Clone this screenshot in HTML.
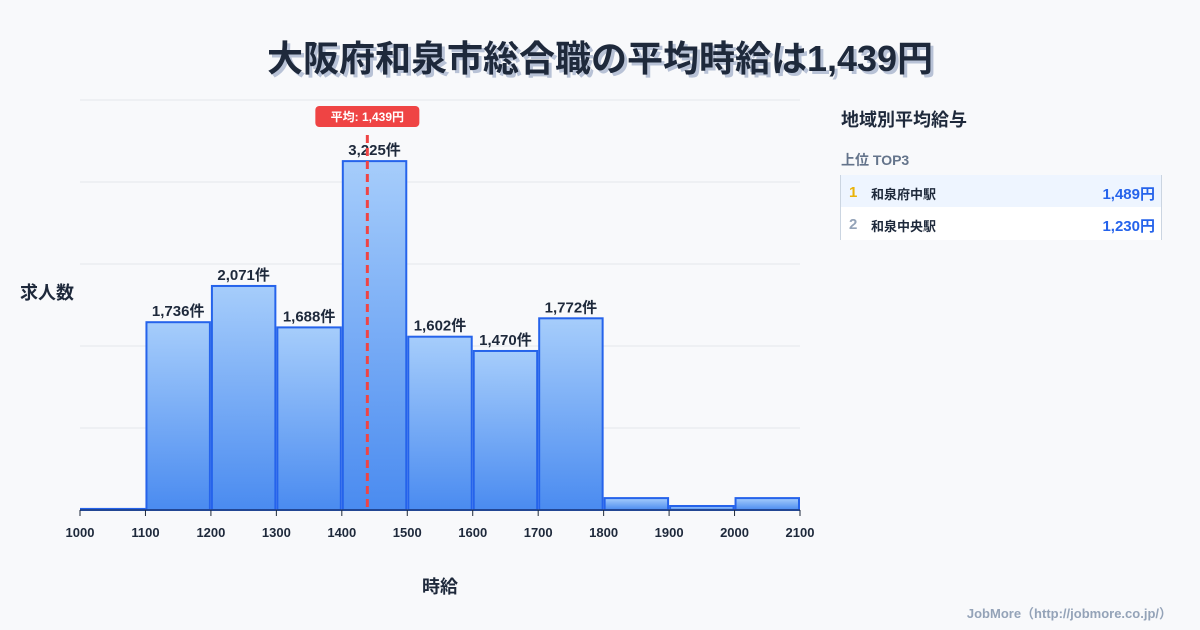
<!DOCTYPE html>
<html><head><meta charset="utf-8">
<style>
body{margin:0;width:1200px;height:630px;background:#f8f9fb;font-family:"Liberation Sans","Noto Sans CJK JP",sans-serif;overflow:hidden;position:relative}
.t{position:absolute;left:0;width:1200px;top:30px;text-align:center;font-size:36px;font-weight:bold;color:#1e293b;text-shadow:3px 3px 0 #b8c2d6}
</style></head><body>
<div class="t">大阪府和泉市総合職の平均時給は1,439円</div>
<svg id="c" width="1200" height="630" style="position:absolute;left:0;top:0">
<defs><linearGradient id="g" x1="0" y1="0" x2="0" y2="1"><stop offset="0" stop-color="#a6cdfb"/><stop offset="1" stop-color="#4a8bf0"/></linearGradient></defs>
</svg>
<div style="position:absolute;left:841px;top:106px;font-size:18px;font-weight:bold;color:#1e293b">地域別平均給与</div>
<div style="position:absolute;left:841px;top:150px;font-size:14px;font-weight:bold;color:#64748b">上位 TOP3</div>
<div style="position:absolute;left:840px;top:175px;width:320px;height:65px;border-left:1px solid #cbd5e1;border-right:1px solid #cbd5e1">
<div style="height:32px;background:#eef5ff;position:relative;font-size:13px;font-weight:bold"><span style="position:absolute;left:8px;top:9px;color:#eab308;font-size:15px">1</span><span style="position:absolute;left:30px;top:9px;color:#1e293b">和泉府中駅</span><span style="position:absolute;right:6px;top:8px;color:#2563eb;font-size:15px">1,489円</span></div>
<div style="height:33px;background:#fff;position:relative;font-size:13px;font-weight:bold"><span style="position:absolute;left:8px;top:9px;color:#94a3b8;font-size:15px">2</span><span style="position:absolute;left:30px;top:9px;color:#1e293b">和泉中央駅</span><span style="position:absolute;right:6px;top:8px;color:#2563eb;font-size:15px">1,230円</span></div>
</div>
<div style="position:absolute;right:28px;top:603px;font-size:13px;font-weight:bold;color:#94a3b8">JobMore（http://jobmore.co.jp/）</div>
<script>
const binStarts=[1000,1100,1200,1300,1400,1500,1600,1700,1800,1900,2000];
const counts=[10,1736,2071,1688,3225,1602,1470,1772,110,37,110];
const xTicks=[1000,1100,1200,1300,1400,1500,1600,1700,1800,1900,2000,2100];
const meanValue=1439;
const svg=document.getElementById('c');const NS='http://www.w3.org/2000/svg';
const X0=80,X1=800,Y0=510,YT=100,xmin=1000,xmax=2100,ymax=3790;
const xs=v=>X0+(v-xmin)/(xmax-xmin)*(X1-X0);
const ys=v=>Y0-v/ymax*(Y0-YT);
function mk(t,a,txt){const e=document.createElementNS(NS,t);for(const k in a)e.setAttribute(k,a[k]);if(txt!=null)e.textContent=txt;svg.appendChild(e);return e;}
for(let i=0;i<=5;i++){const g=mk('line',{x1:X0,x2:X1,y1:Y0-i*82,y2:Y0-i*82,stroke:'#e5e7eb'});

}
binStarts.forEach((b,i)=>{const x=xs(b)+1,w=xs(b+100)-xs(b)-2,y=ys(counts[i]);
const r=mk('rect',{x:x,y:y,width:w,height:Y0-y,fill:'url(#g)',stroke:'#2563eb','stroke-width':2});


if(counts[i]>500){const t=mk('text',{x:x+w/2,y:y-6,'text-anchor':'middle','font-size':15,'font-weight':'bold',fill:'#1e293b'},counts[i].toLocaleString('en-US')+'件');

}});
mk('line',{x1:X0,x2:X1,y1:Y0,y2:Y0,stroke:'#1e293b'});
xTicks.forEach(v=>{const x=xs(v);mk('line',{x1:x,x2:x,y1:Y0,y2:Y0+6,stroke:'#1e293b'});
const t=mk('text',{x:x,y:Y0+27,'text-anchor':'middle','font-size':13,'font-weight':'bold',fill:'#1e293b'},String(v));

});
const mx=xs(meanValue);
const ml=mk('line',{x1:mx,x2:mx,y1:135,y2:Y0,stroke:'#ef4444','stroke-width':3,'stroke-dasharray':'8,5'});


const mb=mk('rect',{x:mx-52,y:106,width:104,height:21,rx:4,fill:'#ef4444'});


mk('text',{x:mx,y:121,'text-anchor':'middle','font-size':12,'font-weight':'bold',fill:'#fff'},'平均: '+meanValue.toLocaleString('en-US')+'円');
const yt=mk('text',{x:20,y:299,'font-size':18,'font-weight':'bold',fill:'#1e293b'},'求人数');


const xt=mk('text',{x:440,y:593,'text-anchor':'middle','font-size':18,'font-weight':'bold',fill:'#1e293b'},'時給');


</script>
</body></html>
